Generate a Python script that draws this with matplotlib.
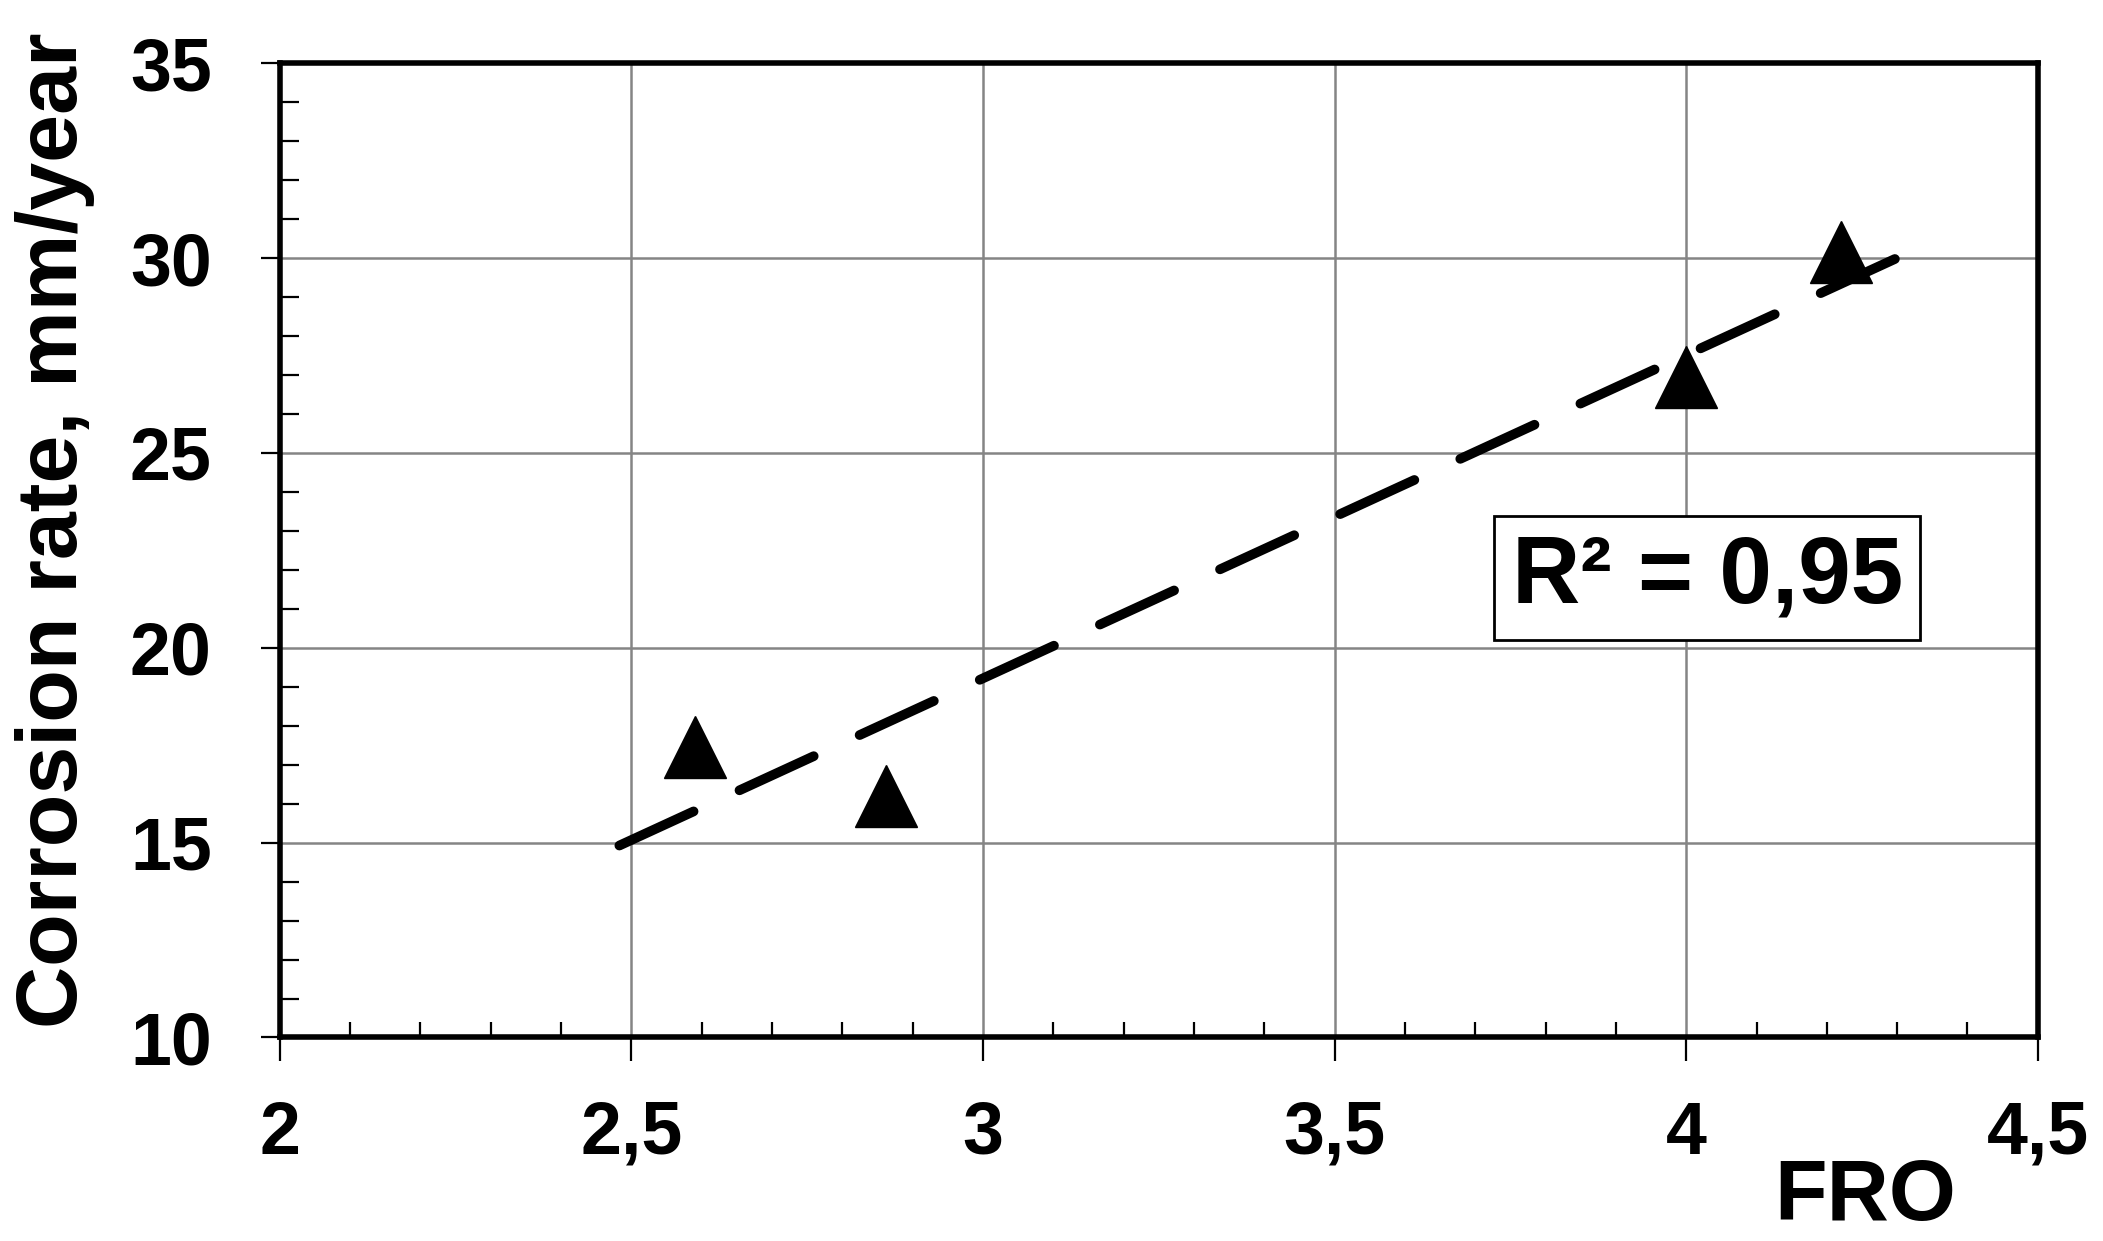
import numpy as np
import matplotlib.pyplot as plt
from matplotlib.ticker import MultipleLocator, FuncFormatter

# data
fro = [2.59, 2.862, 4.00, 4.22]
corrosion_rate = [17.45, 16.2, 26.94, 30.15]
trend_x = [2.483, 4.315]
r2_label = "R² = 0,95"

plt.rcParams['font.family'] = ['Liberation Sans', 'DejaVu Sans']
plt.rcParams['font.weight'] = 'bold'

fig = plt.figure(figsize=(21.03, 12.41), dpi=100)
ax = fig.add_axes([0.133, 0.164, 0.836, 0.785])

# linear trend line, as the spreadsheet draws it
k, b = np.polyfit(fro, corrosion_rate, 1)
tx = np.array(trend_x)
ax.plot(tx, k * tx + b, color='black', lw=7, dashes=(8.4, 5.2),
        dash_capstyle='round', zorder=3)

ax.plot(fro, corrosion_rate, linestyle='none', marker='^', ms=45,
        color='black', zorder=4)

ax.set_xlim(2, 4.5)
ax.set_ylim(10, 35)
ax.xaxis.set_major_locator(MultipleLocator(0.5))
ax.xaxis.set_minor_locator(MultipleLocator(0.1))
ax.yaxis.set_major_locator(MultipleLocator(5))
ax.yaxis.set_minor_locator(MultipleLocator(1))

comma = FuncFormatter(lambda v, p: ('%g' % v).replace('.', ','))
ax.xaxis.set_major_formatter(comma)

ax.grid(True, which='major', color='#858585', lw=1.8, zorder=0)
for s in ax.spines.values():
    s.set_linewidth(4)
    s.set_zorder(5)

ax.tick_params(axis='x', which='major', direction='out', length=17, width=1.6,
               labelsize=53, pad=28)
ax.tick_params(axis='x', which='minor', direction='in', length=11, width=1.6)
ax.tick_params(axis='y', which='major', direction='out', length=14, width=1.6,
               labelsize=53, pad=35)
ax.tick_params(axis='y', which='minor', direction='in', length=14, width=1.6)
for lab in ax.get_xticklabels() + ax.get_yticklabels():
    lab.set_fontweight('bold')

ax.set_ylabel('Corrosion rate, mm/year', fontsize=62, fontweight='bold')
ax.yaxis.set_label_coords(-0.105, 0.521)
fig.text(0.887, 0.017, 'FRO', fontsize=62, fontweight='bold',
         ha='center', va='baseline')

ax.text(4.03, 21.8, r2_label, fontsize=68, fontweight='bold',
        ha='center', va='center', zorder=6,
        bbox=dict(boxstyle='square,pad=0.185', fc='white', ec='black', lw=2))

fig.savefig('out.png', dpi=100)
